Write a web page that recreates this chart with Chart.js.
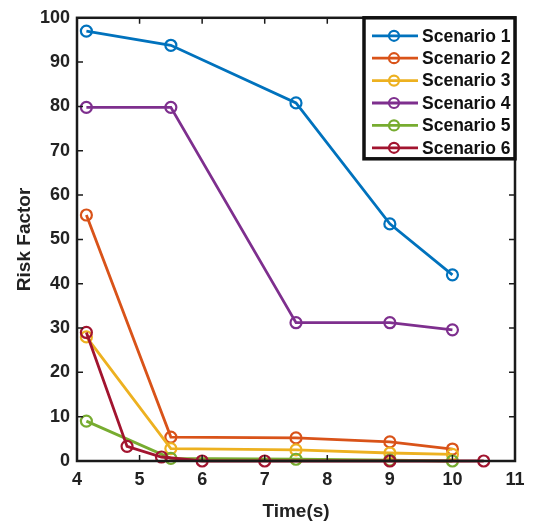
<!DOCTYPE html>
<html>
<head>
<meta charset="utf-8">
<script src="https://cdn.jsdelivr.net/npm/chart.js@4"></script>
<style>
  html, body { margin: 0; padding: 0; background: #fff; }
  #wrap { width: 533px; height: 525px; }
</style>
</head>
<body>
<div id="wrap"><canvas id="c" width="533" height="525"></canvas></div>
<script>
// Risk factor over time for six scenarios
const seriesNames = ['Scenario 1', 'Scenario 2', 'Scenario 3', 'Scenario 4', 'Scenario 5', 'Scenario 6'];
const seriesColors = ['#0072BD', '#D95319', '#EDB120', '#7E2F8E', '#77AC30', '#A2142F'];

const timeMain = [4.15, 5.5, 7.5, 9, 10];
const scenario1 = [97, 93.8, 80.8, 53.5, 42];
const scenario2 = [55.5, 5.4, 5.2, 4.3, 2.7];
const scenario3 = [28, 2.8, 2.5, 1.8, 1.5];
const scenario4 = [79.8, 79.8, 31.2, 31.2, 29.6];
const scenario5 = [9, 0.6, 0.4, 0.2, 0];
const timeS6 = [4.15, 4.8, 5.35, 6, 7, 9, 10.5];
const scenario6 = [29, 3.3, 0.9, 0, 0, 0, 0];

const xTicks = [4, 5, 6, 7, 8, 9, 10, 11];
const yTicks = [0, 10, 20, 30, 40, 50, 60, 70, 80, 90, 100];

const seriesX = [timeMain, timeMain, timeMain, timeMain, timeMain, timeS6];
const seriesY = [scenario1, scenario2, scenario3, scenario4, scenario5, scenario6];

const datasets = seriesNames.map((name, i) => ({
  label: name,
  data: seriesX[i].map((x, k) => ({ x: x, y: seriesY[i][k] })),
  borderColor: seriesColors[i],
  backgroundColor: seriesColors[i],
  pointBorderColor: seriesColors[i],
  pointBackgroundColor: 'rgba(0,0,0,0)',
  pointRadius: 5.5,
  pointBorderWidth: 2.2,
  borderWidth: 2.8,
  showLine: true,
  tension: 0,
  clip: false,
  order: seriesNames.length - i
}));

const FONT = '"Liberation Sans", Arial, sans-serif';

// Box frame with inward ticks on all four sides, plus the boxed legend
const framePlugin = {
  id: 'frame',
  afterDatasetsDraw(chart) {
    const { ctx, chartArea: a, scales } = chart;
    const xs = scales.x, ys = scales.y;
    ctx.save();
    ctx.strokeStyle = '#1a1a1a';
    ctx.lineWidth = 1.5;
    const tl = 6;
    ctx.beginPath();
    xTicks.forEach(v => {
      const px = xs.getPixelForValue(v);
      ctx.moveTo(px, a.bottom); ctx.lineTo(px, a.bottom - tl);
      ctx.moveTo(px, a.top); ctx.lineTo(px, a.top + tl);
    });
    yTicks.forEach(v => {
      const py = ys.getPixelForValue(v);
      ctx.moveTo(a.left, py); ctx.lineTo(a.left + tl, py);
      ctx.moveTo(a.right, py); ctx.lineTo(a.right - tl, py);
    });
    ctx.stroke();
    ctx.lineWidth = 2.5;
    ctx.strokeRect(a.left, a.top, a.right - a.left, a.bottom - a.top);

    // legend box in the top-right corner
    const bx = a.right - 151, by = a.top, bw = 151, bh = 141;
    ctx.fillStyle = '#fff';
    ctx.fillRect(bx, by, bw, bh);
    ctx.lineWidth = 3.5;
    ctx.strokeStyle = '#111';
    ctx.strokeRect(bx, by, bw, bh);
    ctx.font = 'bold 17.5px ' + FONT;
    ctx.textBaseline = 'middle';
    ctx.textAlign = 'left';
    seriesNames.forEach((name, i) => {
      const cy = by + 18 + i * 22.4;
      ctx.strokeStyle = seriesColors[i];
      ctx.lineWidth = 2.8;
      ctx.beginPath();
      ctx.moveTo(bx + 8, cy); ctx.lineTo(bx + 54, cy);
      ctx.stroke();
      ctx.lineWidth = 2.2;
      ctx.beginPath();
      ctx.arc(bx + 30, cy, 5, 0, Math.PI * 2);
      ctx.stroke();
      ctx.fillStyle = '#111';
      ctx.fillText(name, bx + 58, cy + 1);
    });
    ctx.restore();
  }
};

new Chart(document.getElementById('c'), {
  type: 'scatter',
  data: { datasets },
  options: {
    responsive: false,
    animation: false,
    devicePixelRatio: 1,
    layout: { padding: { top: 16, right: 18, left: 0, bottom: 0 } },
    plugins: { legend: { display: false }, tooltip: { enabled: false } },
    scales: {
      x: {
        type: 'linear', min: 4, max: 11,
        afterBuildTicks: s => { s.ticks = xTicks.map(v => ({ value: v })); },
        afterFit: s => { s.height = 64; },
        grid: { display: false, drawTicks: false },
        border: { display: false },
        ticks: { color: '#222', padding: 8, font: { family: FONT, size: 18, weight: 'bold' } },
        title: { display: true, text: 'Time(s)', color: '#222', padding: { top: 4, bottom: 2 },
                 font: { family: FONT, size: 19, weight: 'bold' } }
      },
      y: {
        type: 'linear', min: 0, max: 100,
        afterBuildTicks: s => { s.ticks = yTicks.map(v => ({ value: v })); },
        afterFit: s => { s.width = 77; },
        grid: { display: false, drawTicks: false },
        border: { display: false },
        ticks: { color: '#222', padding: 7, font: { family: FONT, size: 18, weight: 'bold' } },
        title: { display: true, text: 'Risk Factor', color: '#222', padding: { top: 13, bottom: 0 },
                 font: { family: FONT, size: 19, weight: 'bold' } }
      }
    }
  },
  plugins: [framePlugin]
});
</script>
</body>
</html>
